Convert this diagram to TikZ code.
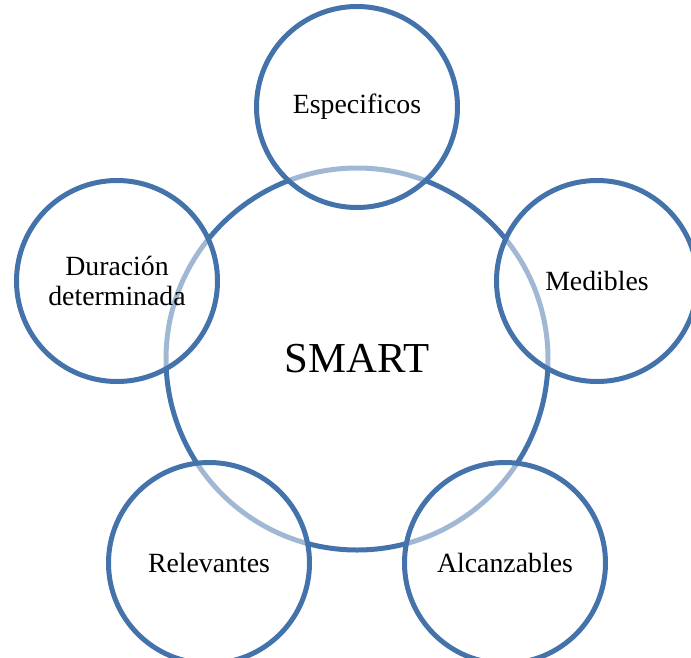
\documentclass[tikz,border=0pt]{standalone}
\usepackage{fontspec}
\setmainfont{Liberation Serif}
\usetikzlibrary{positioning}
\definecolor{smartblue}{HTML}{4472AA}
\tikzset{
	hub/.style={
		circle,
		draw=smartblue, line width=5pt,
		minimum size=382pt,
		inner sep=0pt,
		font=\fontsize{42.7}{46}\selectfont},
	petal/.style={
		circle,
		draw=smartblue, line width=5pt,
		% white veil over the hub ring
		fill=white, fill opacity=0.5,
		draw opacity=1, text opacity=1,
		minimum size=201pt,
		inner sep=0pt,
		align=center,
		font=\fontsize{27.8}{30}\selectfont},
}

\begin{document}
\begin{tikzpicture}
		[x=1pt, y=-1pt]
		\useasboundingbox (0,0) rectangle (691,657);
		\node[hub] (smart) at (357,359) {SMART};
		\node[petal] (espec) at (357,107) {Especificos};
		\node[petal] (medib) at (597,281) {Medibles};
		\node[petal] (alcan) at (505,563) {Alcanzables};
		\node[petal] (relev) at (209,563) {Relevantes};
		\node[petal] (durac) at (117,281) {Duración\\determinada};
		\end{tikzpicture}
\end{document}
